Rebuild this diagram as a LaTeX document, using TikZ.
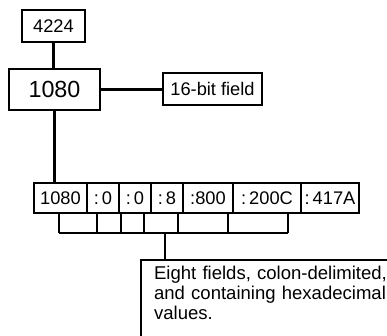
\documentclass[tikz,border=0pt]{standalone}
\usepackage{fontspec}
\setmainfont{Liberation Sans}
\usetikzlibrary{positioning}

\begin{document}
\begin{tikzpicture}[
  x=0.75pt, y=-0.75pt,
  line width=1.7pt,
  lbox/.style={draw, inner sep=0pt, minimum height=32*0.75pt, font=\fontsize{13.7}{15}\selectfont},
  fbox/.style={draw, inner sep=0pt, minimum height=30*0.75pt, font=\fontsize{13.7}{15}\selectfont},
]
\clip (0,0) rectangle (387,336);
\fill[white] (0,0) rectangle (387,336);

\node[lbox, minimum width=63*0.75pt] (top) at (53.5, 26) {4224};
\node[draw, inner sep=0pt, minimum width=91*0.75pt, minimum height=41*0.75pt, font=\fontsize{17.5}{19}\selectfont] (main) at (54.5, 89.5) {1080};
\node[lbox, minimum width=99*0.75pt] (bits) at (212.5, 89) {16-bit field};

\node[fbox, minimum width=53*0.75pt] (f1) at (60.5, 198) {1080};
\node[fbox, minimum width=32*0.75pt] (f2) at (103, 198) {:\,0};
\node[fbox, minimum width=32*0.75pt] (f3) at (135, 198) {:\,0};
\node[fbox, minimum width=32*0.75pt] (f4) at (167, 198) {:\,8};
\node[fbox, minimum width=50*0.75pt] (f5) at (208, 198) {:800};
\node[fbox, minimum width=68*0.75pt] (f6) at (267, 198) {:\,200C};
\node[fbox, minimum width=58*0.75pt] (f7) at (330, 198) {:\,417A};

\node[draw, anchor=north west, inner xsep=13*0.75pt, inner ysep=4.5pt, text width=250*0.75pt, text depth=45pt, align=left, font=\fontsize{13.9}{15}\selectfont] (note) at (140, 259) {Eight fields, colon-delimited,\\and containing hexadecimal\\values.};

\draw (top.south) -- (top.south |- main.north);
\draw (main.east) -- (main.east -| bits.west);
\draw (main.south) -- (main.south |- f1.north);

\foreach \x in {59, 97, 121, 144, 178, 228, 288}
  \draw (\x, 213) -- (\x, 233);
\draw (59, 233) -- (288, 233);
\coordinate (brk) at (165, 233);
\draw (brk) -- (brk |- note.north);

\end{tikzpicture}
\end{document}
